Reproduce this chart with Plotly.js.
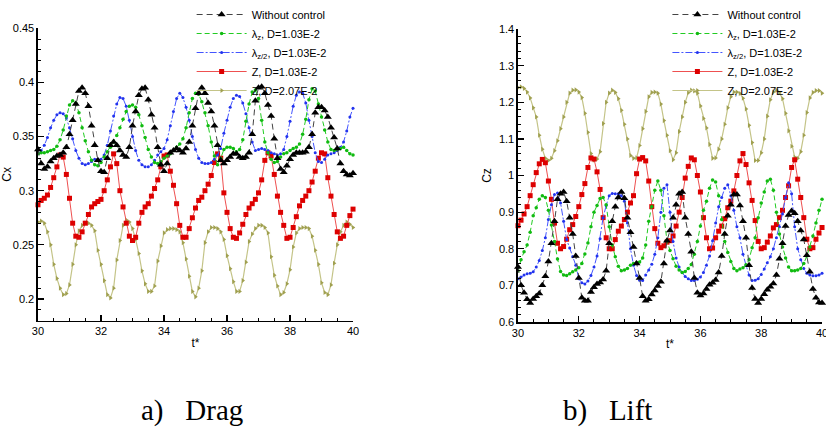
<!DOCTYPE html>
<html>
<head>
<meta charset="utf-8">
<script src="https://cdn.plot.ly/plotly-3.0.1.min.js"></script>
<style>html,body{margin:0;padding:0;background:#fff;}#chart{width:826px;height:434px;}</style>
</head>
<body>
<div id="chart"></div>
<script>
// time axis t*
const T = [30,30.1,30.2,30.3,30.4,30.5,30.6,30.7,30.8,30.9,
31,31.1,31.2,31.3,31.4,31.5,31.6,31.7,31.8,31.9,
32,32.1,32.2,32.3,32.4,32.5,32.6,32.7,32.8,32.9,
33,33.1,33.2,33.3,33.4,33.5,33.6,33.7,33.8,33.9,
34,34.1,34.2,34.3,34.4,34.5,34.6,34.7,34.8,34.9,
35,35.1,35.2,35.3,35.4,35.5,35.6,35.7,35.8,35.9,
36,36.1,36.2,36.3,36.4,36.5,36.6,36.7,36.8,36.9,
37,37.1,37.2,37.3,37.4,37.5,37.6,37.7,37.8,37.9,
38,38.1,38.2,38.3,38.4,38.5,38.6,38.7,38.8,38.9,
39,39.1,39.2,39.3,39.4,39.5,39.6,39.7,39.8,39.9,
40];

const seriesNames = ["Without control", "λ<sub>z</sub>, D=1.03E-2", "λ<sub>z/2</sub>, D=1.03E-2", "Z, D=1.03E-2", "Z, D=2.07E-2"];

// ---- a) Drag : Cx ----
const cxBase = [0.338,0.325,0.320,0.322,0.327,0.330,0.332,0.333,0.335,0.340,
0.352,0.365,0.380,0.392,0.395,0.390,0.378,0.360,0.342,0.328,
0.318,0.317,0.330,0.342,0.345,0.342,0.337,0.333,0.331,0.340,
0.360,0.373,0.388,0.394,0.395,0.384,0.370,0.358,0.340,0.324,
0.318,0.325,0.335,0.337,0.339,0.337,0.335,0.339,0.345,0.360,
0.376,0.390,0.395,0.390,0.381,0.373,0.360,0.342,0.328,0.325,
0.328,0.331,0.334,0.334,0.331,0.330,0.331,0.335,0.352,0.383,
0.395,0.396,0.390,0.379,0.369,0.348,0.330,0.320,0.317,0.323,
0.329,0.333,0.335,0.335,0.335,0.336,0.340,0.352,0.372,0.377,
0.377,0.374,0.368,0.358,0.349,0.339,0.325,0.318,0.315,0.314,
0.316];
const cxLz = [0.334,0.335,0.335,0.336,0.337,0.338,0.341,0.347,0.356,0.369,
0.379,0.383,0.381,0.372,0.358,0.346,0.336,0.328,0.324,0.323,
0.326,0.331,0.336,0.340,0.345,0.351,0.358,0.366,0.373,0.378,
0.379,0.377,0.370,0.360,0.349,0.338,0.331,0.326,0.325,0.327,
0.330,0.332,0.334,0.337,0.340,0.343,0.348,0.358,0.372,0.385,
0.390,0.389,0.382,0.372,0.360,0.345,0.332,0.324,0.330,0.338,
0.340,0.340,0.339,0.336,0.338,0.347,0.364,0.380,0.391,0.393,
0.385,0.365,0.345,0.335,0.329,0.326,0.327,0.331,0.334,0.335,
0.337,0.339,0.340,0.343,0.352,0.366,0.384,0.394,0.392,0.380,
0.368,0.356,0.345,0.338,0.337,0.338,0.339,0.340,0.337,0.334,
0.333];
const cxLz2 = [0.334,0.337,0.342,0.349,0.358,0.365,0.370,0.372,0.371,0.367,
0.358,0.348,0.337,0.330,0.325,0.324,0.325,0.327,0.329,0.329,
0.329,0.333,0.342,0.355,0.369,0.380,0.386,0.385,0.378,0.365,
0.350,0.337,0.328,0.324,0.322,0.322,0.324,0.328,0.333,0.336,
0.339,0.347,0.360,0.373,0.385,0.390,0.386,0.377,0.365,0.350,
0.338,0.330,0.326,0.325,0.325,0.326,0.329,0.333,0.339,0.353,
0.365,0.377,0.385,0.388,0.387,0.381,0.371,0.358,0.345,0.337,
0.338,0.339,0.338,0.337,0.335,0.334,0.333,0.334,0.338,0.350,
0.364,0.378,0.388,0.391,0.390,0.381,0.365,0.350,0.335,0.327,
0.326,0.329,0.333,0.334,0.335,0.337,0.340,0.345,0.355,0.368,
0.376];
const cxZ1 = [0.287,0.291,0.293,0.296,0.303,0.312,0.322,0.333,0.331,0.315,
0.293,0.270,0.258,0.257,0.262,0.270,0.278,0.285,0.288,0.290,
0.292,0.300,0.310,0.322,0.334,0.325,0.300,0.285,0.270,0.258,
0.254,0.257,0.270,0.280,0.285,0.288,0.295,0.302,0.310,0.322,
0.332,0.333,0.318,0.305,0.288,0.268,0.257,0.257,0.265,0.275,
0.284,0.291,0.294,0.300,0.306,0.314,0.326,0.334,0.330,0.298,
0.280,0.265,0.257,0.256,0.261,0.269,0.278,0.284,0.288,0.292,
0.298,0.310,0.328,0.335,0.332,0.315,0.295,0.280,0.268,0.256,
0.257,0.266,0.276,0.286,0.291,0.295,0.300,0.308,0.318,0.330,
0.335,0.334,0.312,0.295,0.278,0.262,0.256,0.258,0.268,0.277,
0.283];
const cxZ2 = [0.271,0.272,0.270,0.262,0.250,0.232,0.219,0.210,0.204,0.205,
0.213,0.232,0.250,0.263,0.268,0.270,0.270,0.268,0.263,0.245,
0.232,0.217,0.204,0.201,0.210,0.236,0.254,0.268,0.273,0.271,
0.265,0.255,0.242,0.226,0.214,0.207,0.207,0.212,0.235,0.249,
0.261,0.264,0.265,0.265,0.264,0.262,0.252,0.237,0.221,0.207,
0.202,0.210,0.226,0.252,0.262,0.266,0.266,0.265,0.262,0.255,
0.240,0.228,0.216,0.207,0.207,0.217,0.234,0.253,0.260,0.265,
0.268,0.268,0.266,0.261,0.239,0.222,0.212,0.204,0.206,0.214,
0.227,0.248,0.261,0.265,0.266,0.266,0.265,0.258,0.245,0.232,
0.215,0.206,0.204,0.213,0.233,0.250,0.262,0.268,0.271,0.269,
0.266];

// ---- b) Lift : Cz ----
const czBase = [0.750,0.700,0.680,0.662,0.652,0.663,0.670,0.678,0.700,0.725,
0.765,0.815,0.875,0.935,0.950,0.955,0.930,0.885,0.840,0.780,
0.720,0.666,0.658,0.658,0.682,0.695,0.704,0.708,0.716,0.740,
0.815,0.875,0.915,0.940,0.955,0.938,0.885,0.845,0.805,0.760,
0.720,0.670,0.658,0.662,0.675,0.686,0.698,0.710,0.760,0.822,
0.850,0.885,0.920,0.950,0.955,0.885,0.840,0.792,0.720,0.680,
0.672,0.678,0.690,0.702,0.707,0.715,0.735,0.780,0.840,0.890,
0.920,0.948,0.948,0.918,0.875,0.830,0.755,0.693,0.663,0.652,
0.663,0.676,0.688,0.696,0.705,0.728,0.773,0.815,0.862,0.892,
0.903,0.897,0.875,0.850,0.825,0.782,0.737,0.690,0.666,0.653,
0.652];
const czLz = [0.740,0.770,0.792,0.810,0.845,0.890,0.912,0.935,0.945,0.940,
0.905,0.865,0.820,0.772,0.738,0.728,0.727,0.732,0.737,0.742,
0.748,0.760,0.786,0.816,0.860,0.900,0.918,0.937,0.940,0.920,
0.860,0.810,0.778,0.752,0.740,0.742,0.746,0.755,0.760,0.762,
0.764,0.775,0.810,0.875,0.915,0.960,0.985,0.960,0.890,0.822,
0.795,0.773,0.752,0.742,0.735,0.738,0.746,0.757,0.785,0.820,
0.862,0.905,0.930,0.965,0.988,0.982,0.945,0.880,0.820,0.790,
0.765,0.746,0.740,0.745,0.748,0.756,0.770,0.803,0.830,0.885,
0.925,0.955,0.985,0.990,0.960,0.900,0.840,0.805,0.775,0.750,
0.740,0.740,0.742,0.746,0.760,0.780,0.805,0.835,0.870,0.905,
0.935];
const czLz2 = [0.718,0.723,0.728,0.732,0.733,0.737,0.750,0.768,0.795,0.830,
0.880,0.920,0.948,0.952,0.925,0.875,0.825,0.802,0.778,0.755,
0.718,0.707,0.704,0.712,0.727,0.750,0.780,0.827,0.885,0.918,
0.945,0.951,0.950,0.950,0.945,0.930,0.870,0.800,0.755,0.727,
0.714,0.713,0.728,0.742,0.758,0.785,0.830,0.900,0.965,0.975,
0.900,0.820,0.775,0.750,0.735,0.724,0.718,0.713,0.713,0.717,
0.723,0.735,0.755,0.780,0.822,0.870,0.915,0.940,0.965,0.975,
0.945,0.905,0.860,0.830,0.785,0.755,0.728,0.713,0.714,0.718,
0.730,0.745,0.762,0.778,0.800,0.830,0.860,0.895,0.940,0.980,
0.950,0.860,0.800,0.770,0.746,0.733,0.728,0.726,0.726,0.728,
0.733];
const czZ1 = [0.863,0.878,0.895,0.915,0.945,0.975,1.008,1.032,1.044,1.035,
0.985,0.935,0.870,0.815,0.800,0.806,0.826,0.852,0.866,0.888,
0.915,0.948,0.978,1.022,1.048,1.045,1.010,0.962,0.885,0.830,
0.800,0.800,0.825,0.848,0.862,0.880,0.900,0.925,0.945,1.005,
1.045,1.049,1.040,0.985,0.915,0.855,0.815,0.803,0.808,0.818,
0.822,0.835,0.862,0.900,0.940,0.993,1.025,1.048,1.043,1.000,
0.955,0.885,0.830,0.800,0.802,0.830,0.848,0.862,0.882,0.912,
0.930,0.958,1.000,1.040,1.060,1.030,0.980,0.932,0.877,0.820,
0.800,0.803,0.818,0.835,0.857,0.866,0.885,0.905,0.940,0.972,
1.022,1.043,0.990,0.940,0.885,0.826,0.800,0.803,0.826,0.843,
0.858];
const czZ2 = [1.240,1.242,1.238,1.228,1.212,1.185,1.160,1.110,1.072,1.047,
1.041,1.047,1.068,1.095,1.128,1.160,1.200,1.225,1.233,1.234,
1.228,1.213,1.170,1.118,1.060,1.042,1.045,1.065,1.142,1.200,
1.225,1.233,1.227,1.210,1.178,1.140,1.100,1.055,1.047,1.048,
1.082,1.128,1.175,1.215,1.227,1.228,1.225,1.195,1.150,1.110,
1.068,1.043,1.062,1.120,1.160,1.200,1.226,1.233,1.231,1.225,
1.190,1.156,1.130,1.085,1.047,1.048,1.072,1.100,1.140,1.185,
1.215,1.228,1.228,1.224,1.211,1.182,1.137,1.090,1.041,1.041,
1.062,1.100,1.162,1.207,1.228,1.233,1.226,1.210,1.170,1.122,
1.080,1.050,1.047,1.065,1.110,1.172,1.212,1.227,1.232,1.232,
1.225];

const styles = [
  {line:{color:'#444444', width:1, dash:'6px,4px'}, marker:{symbol:'triangle-up', size:7, color:'#000000'}},
  {line:{color:'#22cc22', width:1, dash:'5px,3px'}, marker:{symbol:'circle', size:3.5, color:'#11bb11'}},
  {line:{color:'#4455ff', width:1, dash:'7px,2px,2px,2px'}, marker:{symbol:'circle', size:3, color:'#2233ee'}},
  {line:{color:'#ee5050', width:1}, marker:{symbol:'square', size:5, color:'#dd0000'}},
  {line:{color:'#c4c488', width:1.2}, marker:{symbol:'triangle-right', size:4.5, color:'#a0a050'}}
];
// drawing order (bottom to top): olive, red, blue, green, black
const drawOrder = [4,3,2,1,0];

function makeTraces(ys, xa, ya, leg) {
  return drawOrder.map(i => ({
    type:'scatter', mode:'lines+markers', x:T, y:ys[i], xaxis:xa, yaxis:ya,
    name:seriesNames[i], legend:leg, legendrank:i+1,
    line:styles[i].line, marker:styles[i].marker, cliponaxis:false, hoverinfo:'skip'
  }));
}

const data = [].concat(
  makeTraces([cxBase,cxLz,cxLz2,cxZ1,cxZ2],'x','y','legend'),
  makeTraces([czBase,czLz,czLz2,czZ1,czZ2],'x2','y2','legend2')
);

const axisCommon = {
  showline:true, linecolor:'#000', linewidth:1.6, mirror:false,
  ticks:'inside', ticklen:6, tickwidth:1.2, tickcolor:'#000',
  showgrid:false, zeroline:false, ticklabeloverflow:'allow',
  tickfont:{family:'Liberation Sans, Arial, sans-serif', size:11, color:'#000'}
};
const xCommon = Object.assign({}, axisCommon, {
  range:[29.9999,40.0001], tick0:30, dtick:2,
  minor:{dtick:0.5, ticks:'inside', ticklen:3, tickcolor:'#000', tickwidth:1, showgrid:false},
  title:{text:'t*', standoff:2, font:{family:'Liberation Sans, Arial, sans-serif', size:12, color:'#000'}}
});

const layout = {
  width:826, height:434,
  margin:{l:0, r:0, t:0, b:0},
  paper_bgcolor:'#fff', plot_bgcolor:'rgba(0,0,0,0)',
  font:{family:'Liberation Sans, Arial, sans-serif', size:11, color:'#000'},
  showlegend:true,
  xaxis:Object.assign({}, xCommon, {domain:[0.046,0.4274], anchor:'y'}),
  yaxis:Object.assign({}, axisCommon, {
    domain:[0.2611,0.9355], anchor:'x', range:[0.18,0.4502], tick0:0, dtick:0.05,
    minor:{dtick:0.01, ticks:'inside', ticklen:3, tickcolor:'#000', tickwidth:1, showgrid:false},
    title:{text:'Cx', standoff:6, font:{family:'Liberation Sans, Arial, sans-serif', size:12, color:'#000'}}
  }),
  xaxis2:Object.assign({}, xCommon, {domain:[0.6271,0.9952], anchor:'y2'}),
  yaxis2:Object.assign({}, axisCommon, {
    domain:[0.2581,0.9332], anchor:'x2', range:[0.6,1.4002], tick0:0, dtick:0.1,
    minor:{dtick:0.02, ticks:'inside', ticklen:3, tickcolor:'#000', tickwidth:1, showgrid:false},
    title:{text:'Cz', standoff:4, font:{family:'Liberation Sans, Arial, sans-serif', size:12, color:'#000'}}
  }),
  legend:{x:0.232, y:1, xanchor:'left', yanchor:'top', bgcolor:'rgba(0,0,0,0)',
    font:{size:11}, itemwidth:50, tracegroupgap:0, traceorder:'normal'},
  legend2:{x:0.808, y:1, xanchor:'left', yanchor:'top', bgcolor:'rgba(0,0,0,0)',
    font:{size:11}, itemwidth:50, tracegroupgap:0, traceorder:'normal'},
  annotations:[
    {xref:'paper', yref:'paper', x:0.232, y:0.055, xanchor:'center', yanchor:'middle', showarrow:false,
     text:'a)\u2002 Drag', font:{family:'Liberation Serif, DejaVu Serif, serif', size:29, color:'#000'}},
    {xref:'paper', yref:'paper', x:0.736, y:0.055, xanchor:'center', yanchor:'middle', showarrow:false,
     text:'b)\u2002 Lift', font:{family:'Liberation Serif, DejaVu Serif, serif', size:29, color:'#000'}}
  ]
};

Plotly.newPlot('chart', data, layout, {staticPlot:true, displayModeBar:false});
</script>
</body>
</html>
